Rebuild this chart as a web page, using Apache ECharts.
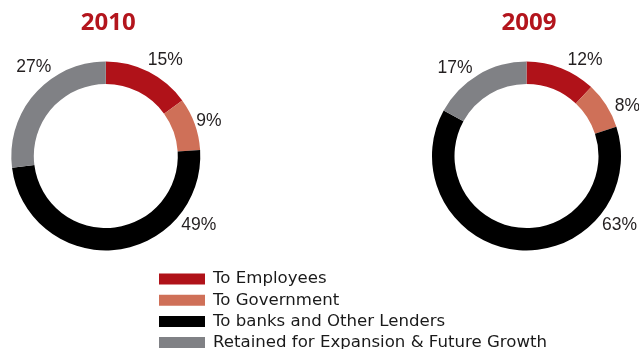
<!DOCTYPE html>
<html>
<head>
<meta charset="utf-8">
<script src="https://cdn.jsdelivr.net/npm/echarts@6/dist/echarts.min.js"></script>
<style>
  html, body { margin: 0; padding: 0; background: #ffffff; }
  #chart { width: 639px; height: 349px; }
</style>
</head>
<body>
<div id="chart"></div>
<script>
// Distribution of value added, share of total (%)
const categories = [
  'To Employees',
  'To Government',
  'To banks and Other Lenders',
  'Retained for Expansion & Future Growth'
];
const years = ['2010', '2009'];
const values2010 = [15, 9, 49, 27];
const values2009 = [12, 8, 63, 17];

const colors = ['#b01219', '#cf7058', '#000000', '#808185'];

// Ring geometry and label placement (offsets of each label centre from the ring centre)
const centers = [[105.8, 156], [526.5, 156]];
const labelOffsets = [
  [[59.5, -96], [103, -34.5], [93, 69.5], [-72, -89]],
  [[58.5, -96], [101, -50], [93, 69.5], [-71.5, -88]]
];

function pieSeries(name, values, idx) {
  return {
    name: name,
    type: 'pie',
    center: centers[idx],
    radius: [72, 94.5],
    startAngle: 90,
    clockwise: true,
    avoidLabelOverlap: false,
    silent: true,
    emphasis: { disabled: true },
    data: categories.map((c, i) => ({ name: c, value: values[i] })),
    label: {
      show: true,
      position: 'outside',
      formatter: '{c}%',
      fontFamily: 'Liberation Sans',
      fontSize: 17.5,
      color: '#231f20'
    },
    labelLine: { show: false },
    labelLayout: function (p) {
      const off = labelOffsets[idx][p.dataIndex];
      return {
        x: centers[idx][0] + off[0],
        y: centers[idx][1] + off[1],
        align: 'center',
        verticalAlign: 'middle'
      };
    }
  };
}

const chart = echarts.init(document.getElementById('chart'), null, { renderer: 'canvas' });
chart.setOption({
  animation: false,
  color: colors,
  graphic: years.map((y, i) => ({
    type: 'text',
    x: centers[i][0] + 2.5,
    y: 23,
    style: {
      text: y,
      fill: '#b3151d',
      font: 'bold 24px "Open Sans"',
      textAlign: 'center',
      textVerticalAlign: 'middle'
    }
  })),
  legend: {
    orient: 'vertical',
    left: 159,
    top: 270.5,
    height: 120,
    padding: 0,
    icon: 'rect',
    itemWidth: 46,
    itemHeight: 11,
    itemGap: 4.2,
    selectedMode: false,
    data: categories,
    textStyle: {
      fontFamily: 'DejaVu Sans',
      fontSize: 16.6,
      color: '#1a1a1a',
      padding: [0, 0, 0, 3]
    }
  },
  series: [
    pieSeries(years[0], values2010, 0),
    pieSeries(years[1], values2009, 1)
  ]
});
</script>
</body>
</html>
